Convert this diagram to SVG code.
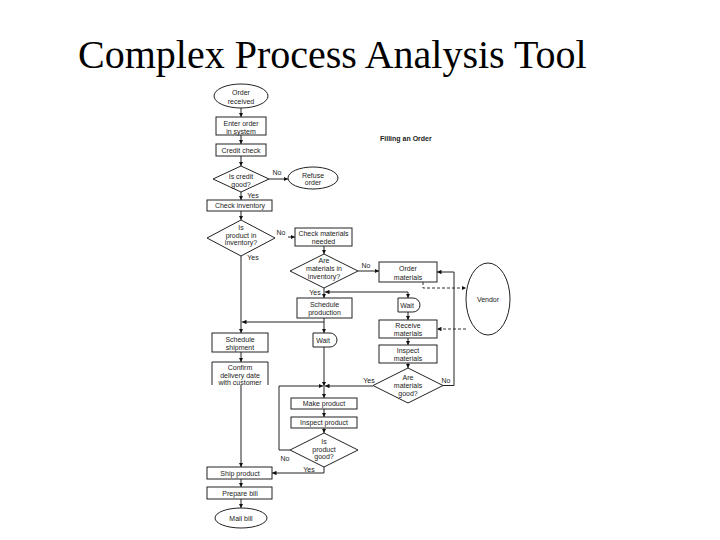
<svg xmlns="http://www.w3.org/2000/svg" width="720" height="540" viewBox="0 0 720 540">
<defs>
<marker id="ah" viewBox="0 0 8 8" refX="8" refY="4" markerWidth="4.5" markerHeight="4.5" markerUnits="userSpaceOnUse" orient="auto"><path d="M0,0 L8,4 L0,8 z" fill="#111"/></marker>
<style>
.s{fill:#fff;stroke:#222;stroke-width:1}
.t{font-family:"Liberation Sans",Arial,sans-serif;font-size:7px;fill:#222;text-anchor:middle}
.l{font-family:"Liberation Sans",Arial,sans-serif;font-size:7px;fill:#222;text-anchor:middle}
.c{fill:none;stroke:#222;stroke-width:1}
.d{fill:none;stroke:#333;stroke-width:1;stroke-dasharray:3,2}
</style>
</defs>
<rect width="720" height="540" fill="#fff"/>
<text x="78" y="68" font-family="'Liberation Serif','Times New Roman',serif" font-size="40" fill="#000">Complex Process Analysis Tool</text>
<text x="380" y="140.5" font-family="'Liberation Sans',Arial,sans-serif" font-size="7" font-weight="bold" fill="#222">Filling an Order</text>

<g id="connectors">
<path class="c" d="M241,108 V117" marker-end="url(#ah)"/>
<path class="c" d="M241,135 V144" marker-end="url(#ah)"/>
<path class="c" d="M241,156 V166" marker-end="url(#ah)"/>
<path class="c" d="M269,179 H288" marker-end="url(#ah)"/>
<path class="c" d="M241,192 V200" marker-end="url(#ah)"/>
<path class="c" d="M241,211 V220" marker-end="url(#ah)"/>
<path class="c" d="M241,256 V333" marker-end="url(#ah)"/>
<path class="c" d="M288,237 H295" marker-end="url(#ah)"/>
<path class="c" d="M324,246 V254" marker-end="url(#ah)"/>
<path class="c" d="M358,271 H379" marker-end="url(#ah)"/>
<path class="c" d="M324,288 V298" marker-end="url(#ah)"/>
<path class="c" d="M408,292 H325" marker-end="url(#ah)"/>
<path class="c" d="M408,292 V298" marker-end="url(#ah)"/>
<path class="d" d="M423,282 V288 H466" marker-end="url(#ah)"/>
<path class="d" d="M466,329 H437" marker-end="url(#ah)"/>
<path class="c" d="M408,312 V320" marker-end="url(#ah)"/>
<path class="c" d="M408,338 V345" marker-end="url(#ah)"/>
<path class="c" d="M408,363 V368" marker-end="url(#ah)"/>
<path class="c" d="M443,385.5 H454 V272 H437" marker-end="url(#ah)"/>
<path class="c" d="M373,386 H325" marker-end="url(#ah)"/>
<path class="c" d="M324,318 V333" marker-end="url(#ah)"/>
<path class="c" d="M324,322 H242" marker-end="url(#ah)"/>
<path class="c" d="M324,347 V386" marker-end="url(#ah)"/>
<path class="c" d="M324,386 V398" marker-end="url(#ah)"/>
<path class="c" d="M324,409 V417" marker-end="url(#ah)"/>
<path class="c" d="M324,428 V433" marker-end="url(#ah)"/>
<path class="c" d="M290,450 H279 V386 H323" marker-end="url(#ah)"/>
<path class="c" d="M241,352 V362" marker-end="url(#ah)"/>
<path class="c" d="M241,385 V467" marker-end="url(#ah)"/>
<path class="c" d="M324,467 V473 H272" marker-end="url(#ah)"/>
<path class="c" d="M241,479 V487" marker-end="url(#ah)"/>
<path class="c" d="M241,499 V508" marker-end="url(#ah)"/>
<text class="l" x="277" y="175">No</text>
<text class="l" x="253" y="197.5">Yes</text>
<text class="l" x="281" y="235">No</text>
<text class="l" x="253" y="260">Yes</text>
<text class="l" x="366" y="268">No</text>
<text class="l" x="315" y="294.5">Yes</text>
<text class="l" x="369" y="382.5">Yes</text>
<text class="l" x="446" y="382.5">No</text>
<text class="l" x="285" y="460.5">No</text>
<text class="l" x="309" y="471.5">Yes</text>
</g>

<g id="n-order-received"><ellipse class="s" cx="241" cy="96" rx="27" ry="12"/><text class="t" x="241" y="94.5">Order</text><text class="t" x="241" y="103.5">received</text></g>
<g id="n-enter-order"><rect class="s" x="216" y="117" width="50" height="18"/><text class="t" x="241" y="125.5">Enter order</text><text class="t" x="241" y="133.5">in system</text></g>
<g id="n-credit-check"><rect class="s" x="216" y="144" width="50" height="12"/><text class="t" x="241" y="152.5">Credit check</text></g>
<g id="n-credit-good"><polygon class="s" points="241,166 269,179 241,192 213,179"/><text class="t" x="241" y="178.5">Is credit</text><text class="t" x="241" y="186.5">good?</text></g>
<g id="n-refuse-order"><ellipse class="s" cx="313" cy="178" rx="25" ry="11"/><text class="t" x="313" y="177.5">Refuse</text><text class="t" x="313" y="184.5">order</text></g>
<g id="n-check-inventory"><rect class="s" x="207" y="200" width="65" height="11"/><text class="t" x="240" y="208">Check inventory</text></g>
<g id="n-in-inventory"><polygon class="s" points="241,220 275,238 241,256 207,238"/><text class="t" x="241" y="229.5">Is</text><text class="t" x="241" y="237.5">product in</text><text class="t" x="241" y="244.5">inventory?</text></g>
<g id="n-check-materials"><rect class="s" x="295" y="228" width="57" height="18"/><text class="t" x="323.5" y="235.5">Check materials</text><text class="t" x="323.5" y="243.5">needed</text></g>
<g id="n-mat-in-inventory"><polygon class="s" points="324,254 358,271 324,288 290,271"/><text class="t" x="324" y="262.5">Are</text><text class="t" x="324" y="270.5">materials in</text><text class="t" x="324" y="278.5">inventory?</text></g>
<g id="n-order-materials"><rect class="s" x="379" y="262" width="58" height="20"/><text class="t" x="408" y="270.5">Order</text><text class="t" x="408" y="279.5">materials</text></g>
<g id="n-vendor"><ellipse class="s" cx="488" cy="299" rx="22" ry="36"/><text class="t" x="488" y="301.5">Vendor</text></g>
<g id="n-wait-1"><path class="s" d="M398,298 H413 A7,7 0 0 1 413,312 H398 Z"/><text class="t" x="407" y="307.5">Wait</text></g>
<g id="n-receive-materials"><rect class="s" x="379" y="320" width="58" height="18"/><text class="t" x="408" y="327.5">Receive</text><text class="t" x="408" y="335.5">materials</text></g>
<g id="n-inspect-materials"><rect class="s" x="379" y="345" width="58" height="18"/><text class="t" x="408" y="352.5">Inspect</text><text class="t" x="408" y="360.5">materials</text></g>
<g id="n-mat-good"><polygon class="s" points="408,368 443,385.5 408,403 373,385.5"/><text class="t" x="408" y="379.5">Are</text><text class="t" x="408" y="387.5">materials</text><text class="t" x="408" y="395.5">good?</text></g>
<g id="n-schedule-production"><rect class="s" x="297" y="298" width="55" height="20"/><text class="t" x="324.5" y="306.5">Schedule</text><text class="t" x="324.5" y="314.5">production</text></g>
<g id="n-wait-2"><path class="s" d="M313,333 H330 A7,7 0 0 1 330,347 H313 Z"/><text class="t" x="323" y="342.5">Wait</text></g>
<g id="n-schedule-shipment"><rect class="s" x="212" y="333" width="56" height="19"/><text class="t" x="240" y="341.5">Schedule</text><text class="t" x="240" y="349.5">shipment</text></g>
<g id="n-confirm-delivery"><path class="s" d="M212,385 V362 H268 V385"/><text class="t" x="240" y="369.5">Confirm</text><text class="t" x="240" y="377.5">delivery date</text><text class="t" x="240" y="384.5">with customer</text></g>
<g id="n-make-product"><rect class="s" x="291" y="398" width="66" height="11"/><text class="t" x="324" y="406">Make product</text></g>
<g id="n-inspect-product"><rect class="s" x="291" y="417" width="66" height="11"/><text class="t" x="324" y="425">Inspect product</text></g>
<g id="n-product-good"><polygon class="s" points="324,433 358,450 324,467 290,450"/><text class="t" x="324" y="443.5">Is</text><text class="t" x="324" y="451.5">product</text><text class="t" x="324" y="458.5">good?</text></g>
<g id="n-ship-product"><rect class="s" x="207" y="467" width="65" height="12"/><text class="t" x="240" y="475.5">Ship product</text></g>
<g id="n-prepare-bill"><rect class="s" x="207" y="487" width="65" height="12"/><text class="t" x="240" y="495.5">Prepare bill</text></g>
<g id="n-mail-bill"><ellipse class="s" cx="241" cy="518" rx="26" ry="10"/><text class="t" x="241" y="520.5">Mail bill</text></g>
</svg>
